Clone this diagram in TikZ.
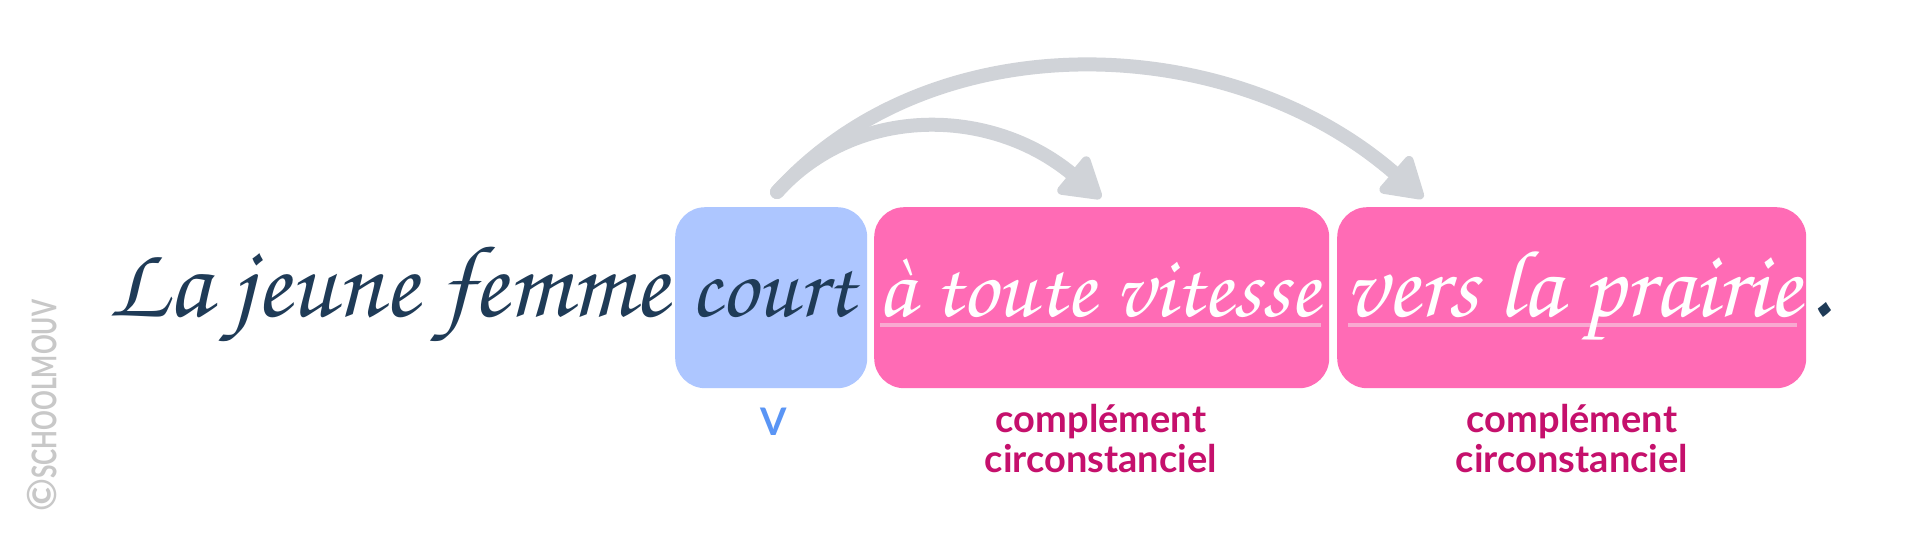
\documentclass[tikz,border=0pt]{standalone}
\usepackage[T1]{fontenc}
\usepackage{fontspec}
\usepackage{graphicx}
\setmainfont{Lato}
\newfontfamily\labfont{Lato}[UprightFont=* Bold]
\usetikzlibrary{arrows.meta}
\newcommand\curs{\usefont{T1}{pzc}{mb}{it}}
\definecolor{navy}{HTML}{1F3B57}
\definecolor{boxblue}{HTML}{ADC6FF}
\definecolor{boxpink}{HTML}{FF6BB5}
\definecolor{ulpink}{HTML}{F9A9D1}
\definecolor{arrowgray}{HTML}{D0D3D8}
\definecolor{vblue}{HTML}{5A95F5}
\definecolor{labmag}{HTML}{C5106C}
\definecolor{wmgray}{HTML}{C8C8C8}
\tikzset{
  box/.style={rounded corners=30pt, inner sep=0pt, anchor=north west, minimum height=181pt},
  cw/.style={anchor=base west, inner sep=0pt},
  lab/.style={inner sep=0pt, align=center, font=\labfont\fontsize{38}{40}\selectfont},
  uline/.style={draw=ulpink, line width=3.5pt},
  arr/.style={draw=arrowgray, line width=14pt, line cap=round,
    -{Triangle[length=44pt,width=52pt,line width=9pt,round]}}
}
\begin{document}
\begin{tikzpicture}[x=1pt,y=-1pt]
\useasboundingbox[fill=white] (0,0) rectangle (1921,538);
% boxes
\node[box, fill=boxblue, minimum width=192pt] (vb) at (675,207) {};
\node[box, fill=boxpink, minimum width=455pt] (pb1) at (874,207) {};
\node[box, fill=boxpink, minimum width=469pt] (pb2) at (1337,207) {};
% underlines
\coordinate (u1a) at (880,325); \coordinate (u1b) at (1321,325);
\coordinate (u2a) at (1348,325); \coordinate (u2b) at (1797,325);
\draw[uline] (u1a) -- (u1b);
\draw[uline] (u2a) -- (u2b);
% sentence
\node[cw, text=navy] (w1) at (108,316) {\curs\resizebox{560pt}{!}{La jeune femme}};
\node[cw, text=navy] (w2) at (690,316) {\curs\resizebox{164pt}{!}{court}};
\node[cw, text=white] (w3) at (877,316) {\curs\resizebox{442pt}{!}{\`a toute vitesse}};
\node[cw, text=white] (w4) at (1344,316) {\curs\resizebox{457pt}{!}{vers la prairie}};
\node[cw, text=navy] (w5) at (1806,316) {\curs\scalebox{11}{.}};
% labels
\node[lab, text=vblue, anchor=base] (lv) at (774,435) {V};
\node[lab, text=labmag, anchor=north] (l1) at (1101,404) {compl\'ement\\circonstanciel};
\node[lab, text=labmag, anchor=north] (l2) at (1572,404) {compl\'ement\\circonstanciel};
% arrows
\coordinate (s) at (777,192);
\coordinate (e1) at (1101,198);
\coordinate (e2) at (1423,198);
\draw[arr] (s) .. controls (933,20) and (1230,30) .. (e2);
\draw[arr] (s) .. controls (856,105) and (990,106) .. (e1);
% watermark
\node[rotate=90, anchor=west, inner sep=0pt, text=wmgray, font=\labfont\fontsize{34}{34}\selectfont] (wm) at (42,512) {{\fontsize{40}{40}\selectfont\char"00A9}\scalebox{0.72}[1]{SCHOOLMOUV}};
\end{tikzpicture}
\end{document}
